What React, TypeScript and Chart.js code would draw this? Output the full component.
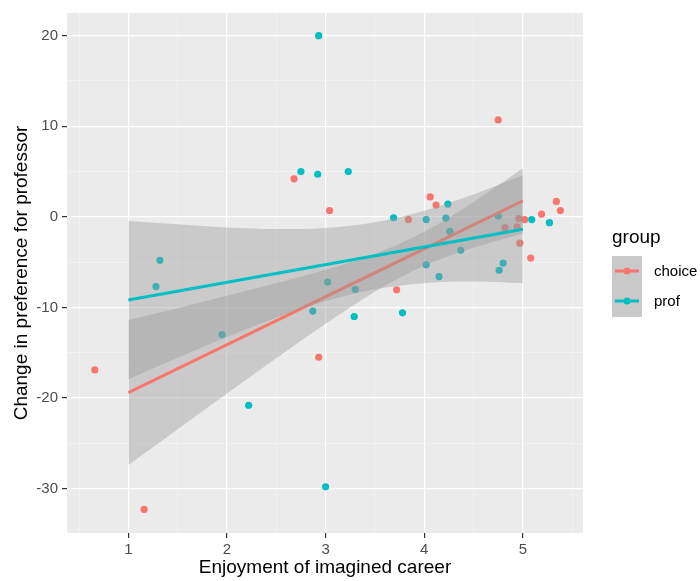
import React, { useEffect, useRef } from 'react';
import { Chart, registerables } from 'chart.js';
Chart.register(...registerables);

// jittered points per group
const choiceX = [0.66, 1.16, 2.68, 2.93, 3.04, 3.72, 3.84, 4.06, 4.12, 4.75, 4.82, 4.94, 4.96, 4.97, 5.02, 5.08, 5.19, 5.34, 5.38];
const choiceY = [-16.9, -32.3, 4.2, -15.5, 0.7, -8.05, -0.3, 2.2, 1.3, 10.7, -1.2, -1.1, -0.2, -2.9, -0.3, -4.55, 0.3, 1.7, 0.7];
const profX = [1.28, 1.32, 1.95, 2.22, 2.75, 2.87, 2.92, 2.93, 3.0, 3.02, 3.23, 3.29, 3.3, 3.69, 3.78, 4.02, 4.02, 4.15, 4.22, 4.24, 4.26, 4.37, 4.75, 4.76, 4.8, 5.09, 5.27];
const profY = [-7.7, -4.8, -13.0, -20.8, 5.0, -10.4, 4.7, 20.0, -29.8, -7.2, 5.0, -11.0, -8.0, -0.1, -10.6, -0.3, -5.3, -6.6, -0.15, 1.4, -1.6, -3.7, 0.1, -5.9, -5.1, -0.3, -0.65];

// fitted lines
const fitX = [1, 5];
const choiceFit = [-19.4, 1.76];
const profFit = [-9.17, -1.37];

// confidence bands
const bandX = [1, 1.5, 2, 2.5, 3, 3.5, 4, 4.5, 5];
const choiceUpper = [-11.4, -10.08, -8.72, -7.34, -5.85, -4.1, -1.66, 1.64, 5.36];
const choiceLower = [-27.4, -23.44, -19.5, -15.6, -11.79, -8.26, -5.4, -3.42, -1.84];
const profUpper = [-0.42, -0.83, -1.17, -1.34, -1.22, -0.59, 0.68, 2.46, 4.58];
const profLower = [-17.92, -15.55, -13.27, -11.14, -9.32, -7.99, -7.32, -7.14, -7.32];

// ticks
const xMajorTicks = [1, 2, 3, 4, 5];
const xMinorTicks = [0.5, 1.5, 2.5, 3.5, 4.5, 5.5];
const yMajorTicks = [-30, -20, -10, 0, 10, 20];
const yMinorTicks = [-25, -15, -5, 5, 15];

const groupNames = ['choice', 'prof'];
const RED = '#F8766D';
const TEAL = '#00BFC4';
const BAND = 'rgba(153,153,153,0.4)';
const FONT = '"Liberation Sans", Arial, Helvetica, sans-serif';

const pts = (xs: number[], ys: number[]) => xs.map((x, i) => ({ x, y: ys[i] }));

const plotPlugin = {
  id: 'ggbg',
  beforeDraw(chart: any) {
    const { ctx, chartArea: a } = chart;
    ctx.save();
    ctx.fillStyle = '#ffffff';
    ctx.fillRect(0, 0, chart.width, chart.height);
    ctx.fillStyle = '#EBEBEB';
    ctx.fillRect(a.left, a.top, a.right - a.left, a.bottom - a.top);
    ctx.restore();
  },
  afterDraw(chart: any) {
    const { ctx, chartArea: a } = chart;
    ctx.save();
    ctx.fillStyle = '#000000';
    ctx.font = `19px ${FONT}`;
    ctx.textAlign = 'center';
    ctx.textBaseline = 'middle';
    ctx.fillText('Enjoyment of imagined career', (a.left + a.right) / 2, 568);
    ctx.save();
    ctx.translate(22, (a.top + a.bottom) / 2);
    ctx.rotate(-Math.PI / 2);
    ctx.fillText('Change in preference for professor', 0, 0);
    ctx.restore();

    // legend
    ctx.textAlign = 'left';
    ctx.font = `19px ${FONT}`;
    ctx.fillText('group', 612, 238);
    ctx.fillStyle = '#C9C9C9';
    ctx.fillRect(612, 256, 30, 61);
    const cols = [RED, TEAL];
    const ys = [271, 301];
    ctx.font = `15px ${FONT}`;
    groupNames.forEach((g, i) => {
      ctx.strokeStyle = cols[i];
      ctx.lineWidth = 3;
      ctx.beginPath();
      ctx.moveTo(615, ys[i]);
      ctx.lineTo(639, ys[i]);
      ctx.stroke();
      ctx.fillStyle = cols[i];
      ctx.beginPath();
      ctx.arc(627, ys[i], 3.5, 0, Math.PI * 2);
      ctx.fill();
      ctx.fillStyle = '#000000';
      ctx.fillText(g, 654, ys[i] + 1);
    });
    ctx.restore();
  },
};

export default function App() {
  const ref = useRef<HTMLCanvasElement>(null);
  useEffect(() => {
    if (!ref.current) return;
    const gridColor = (major: number[]) => (c: any) => (c.tick && major.includes(c.tick.value) ? '#FFFFFF' : '#F7F7F7');
    const gridWidth = (major: number[]) => (c: any) => (c.tick && major.includes(c.tick.value) ? 1.2 : 0.6);
    const tickColor = (major: number[]) => (c: any) => (c.tick && major.includes(c.tick.value) ? '#333333' : 'rgba(0,0,0,0)');
    const chart = new Chart(ref.current, {
      type: 'line',
      data: {
        datasets: [
          { label: 'prof', data: pts(fitX, profFit), borderColor: TEAL, borderWidth: 3, pointRadius: 0, fill: false, order: 1 } as any,
          { label: 'profU', data: pts(bandX, profUpper), borderWidth: 0, borderColor: 'rgba(0,0,0,0)', pointRadius: 0, fill: false, cubicInterpolationMode: 'monotone', order: 2 },
          { label: 'profL', data: pts(bandX, profLower), borderWidth: 0, borderColor: 'rgba(0,0,0,0)', pointRadius: 0, fill: 1, backgroundColor: BAND, cubicInterpolationMode: 'monotone', order: 2 },
          { label: 'choice', data: pts(fitX, choiceFit), borderColor: RED, borderWidth: 3, pointRadius: 0, fill: false, order: 4 },
          { label: 'choiceU', data: pts(bandX, choiceUpper), borderWidth: 0, borderColor: 'rgba(0,0,0,0)', pointRadius: 0, fill: false, cubicInterpolationMode: 'monotone', order: 5 },
          { label: 'choiceL', data: pts(bandX, choiceLower), borderWidth: 0, borderColor: 'rgba(0,0,0,0)', pointRadius: 0, fill: 4, backgroundColor: BAND, cubicInterpolationMode: 'monotone', order: 5 },
          { label: 'choicePts', data: pts(choiceX, choiceY), showLine: false, pointRadius: 3.6, pointBorderWidth: 0, pointBackgroundColor: RED, borderColor: RED, order: 9 },
          { label: 'profPts', data: pts(profX, profY), showLine: false, pointRadius: 3.6, pointBorderWidth: 0, pointBackgroundColor: TEAL, borderColor: TEAL, order: 8 },
        ] as any,
      },
      options: {
        animation: false,
        responsive: false,
        devicePixelRatio: 1,
        layout: { padding: { top: 12, right: 117, left: 0, bottom: 0 } },
        plugins: { legend: { display: false }, tooltip: { enabled: false }, filler: { propagate: false } },
        scales: {
          x: {
            type: 'linear',
            min: 0.378,
            max: 5.61,
            afterFit: (s: any) => { s.height = 48; },
            afterBuildTicks: (s: any) => { s.ticks = [...xMinorTicks, ...xMajorTicks].sort((a, b) => a - b).map((v) => ({ value: v })); },
            border: { display: false },
            grid: { color: gridColor(xMajorTicks), lineWidth: gridWidth(xMajorTicks), tickColor: tickColor(xMajorTicks), tickWidth: 1.2, tickLength: 5, drawTicks: true } as any,
            ticks: {
              padding: 3,
              maxRotation: 0,
              autoSkip: false,
              color: '#4D4D4D',
              font: { family: FONT, size: 15 },
              callback: (v: any) => (xMajorTicks.includes(Number(v)) ? String(v) : ''),
            },
          },
          y: {
            type: 'linear',
            min: -34.9,
            max: 22.5,
            afterFit: (s: any) => { s.width = 67; },
            afterBuildTicks: (s: any) => { s.ticks = [...yMinorTicks, ...yMajorTicks].sort((a, b) => a - b).map((v) => ({ value: v })); },
            border: { display: false },
            grid: { color: gridColor(yMajorTicks), lineWidth: gridWidth(yMajorTicks), tickColor: tickColor(yMajorTicks), tickWidth: 1.2, tickLength: 5, drawTicks: true } as any,
            ticks: {
              padding: 4,
              autoSkip: false,
              color: '#4D4D4D',
              font: { family: FONT, size: 15 },
              callback: (v: any) => (yMajorTicks.includes(Number(v)) ? String(v) : ''),
            },
          },
        },
      } as any,
      plugins: [plotPlugin],
    });
    return () => chart.destroy();
  }, []);
  return (
    <div style={{ position: 'absolute', left: 0, top: 0, width: 700, height: 581 }}>
      <canvas ref={ref} width={700} height={581} style={{ width: 700, height: 581 }} />
    </div>
  );
}
